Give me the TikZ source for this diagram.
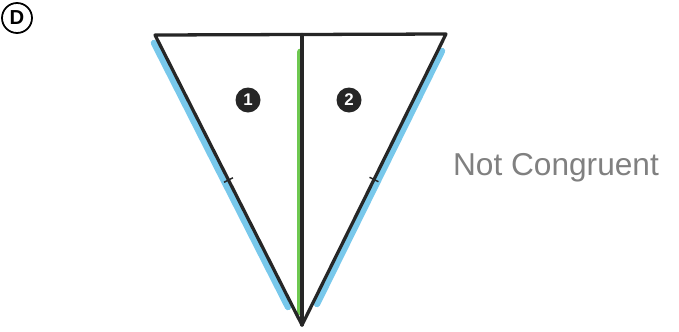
\documentclass[tikz,border=0pt]{standalone}
\usepackage{fontspec}
\setsansfont{Liberation Sans}
\usepackage{tikz}
\usetikzlibrary{calc}
\usetikzlibrary{positioning}

\definecolor{pencilblue}{RGB}{120,200,235}
\definecolor{pencilgreen}{RGB}{110,200,80}

\begin{document}
\begin{tikzpicture}[
    x=0.03cm, y=-0.03cm,
    % pencil shading and pen lines
    pen/.style={draw=black!85, line width=2.8pt, line cap=round, line join=round},
    blueshade/.style={draw=pencilblue, line width=5.5pt, line cap=round},
    greenshade/.style={draw=pencilgreen, line width=6pt, line cap=round},
    num/.style={circle, fill=black!85, text=white, font=\sffamily\bfseries\Large, minimum size=7.5mm, inner sep=0pt},
    tag/.style={circle, draw, line width=1.5pt, font=\sffamily\bfseries\LARGE, minimum size=9mm, inner sep=0pt},
    tickmark/.style={draw=black!85, line width=1.3pt},
]
\useasboundingbox (0,0) rectangle (679,331);

% =========================================================
% triangle corners
% =========================================================
\coordinate (A) at (155,35);
\coordinate (B) at (446,34);
\coordinate (C) at (302,325);
\coordinate (M) at (302,34.5);

% shading (drawn first, below the pen)
\draw[blueshade] (154,43) -- (288,307);
\draw[blueshade] (442,51) -- (317,304);
\draw[greenshade] (300.5,52) -- (300.5,312);

% pen lines
\draw[pen] (A) -- (B) -- (C) -- cycle;
\draw[pen] (M) -- (C);

% equal-side ticks
\coordinate (mL) at ($(A)!0.5!(C)$);
\coordinate (mR) at ($(B)!0.5!(C)$);
\draw[tickmark] ($(mL)!0.15cm!90:(C)$) -- ($(mL)!0.15cm!-90:(C)$);
\draw[tickmark] ($(mR)!0.15cm!90:(C)$) -- ($(mR)!0.15cm!-90:(C)$);

% =========================================================
% labels
% =========================================================
\node[num] (n1) at (248,100) {1};
\node[num] (n2) at (349,100) {2};
\node[tag] (lab) at (17,18) {D};
\node[text=black!50, font=\sffamily\fontsize{27}{31}\selectfont, anchor=west] (verdict) at (449,168) {Not Congruent};
\end{tikzpicture}
\end{document}
